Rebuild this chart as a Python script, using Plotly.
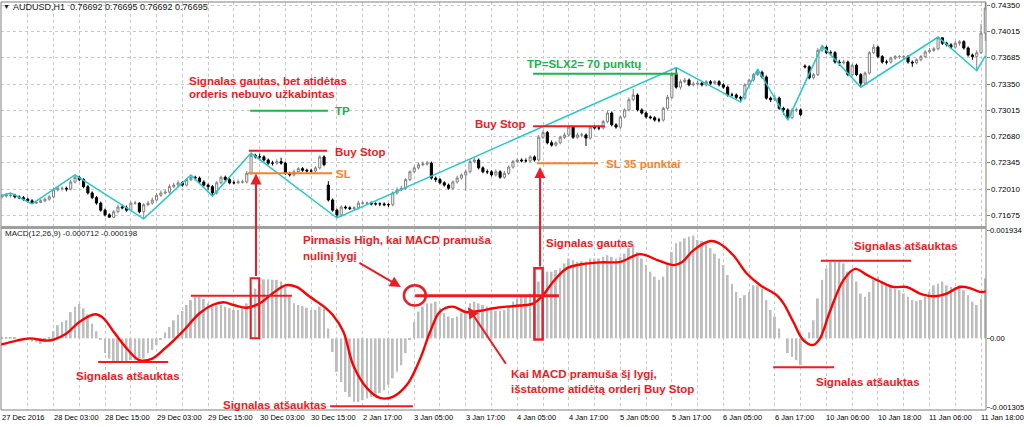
import plotly.graph_objects as go

# --- AUDUSD H1 candles (bar index 0..229) ---
opens = [
    0.7191, 0.7192, 0.7193, 0.7193, 0.7191, 0.7190, 0.7188, 0.7186, 0.7183, 0.7184,
    0.7186, 0.7188, 0.7191, 0.7200, 0.7202, 0.7202, 0.7201, 0.7210, 0.7216, 0.7213,
    0.7204, 0.7196, 0.7190, 0.7183, 0.7174, 0.7168, 0.7165, 0.7172, 0.7178, 0.7177,
    0.7174, 0.7183, 0.7183, 0.7172, 0.7181, 0.7183, 0.7187, 0.7193, 0.7196, 0.7197,
    0.7204, 0.7206, 0.7209, 0.7206, 0.7213, 0.7216, 0.7215, 0.7210, 0.7206, 0.7204,
    0.7196, 0.7209, 0.7216, 0.7213, 0.7209, 0.7209, 0.7210, 0.7210, 0.7221, 0.7244,
    0.7242, 0.7242, 0.7238, 0.7234, 0.7234, 0.7236, 0.7234, 0.7221, 0.7219, 0.7223,
    0.7227, 0.7225, 0.7224, 0.7224, 0.7228, 0.7242, 0.7206, 0.7187, 0.7174, 0.7168,
    0.7178, 0.7177, 0.7176, 0.7177, 0.7183, 0.7183, 0.7183, 0.7182, 0.7182, 0.7182,
    0.7181, 0.7181, 0.7196, 0.7200, 0.7202, 0.7213, 0.7223, 0.7228, 0.7232, 0.7233,
    0.7234, 0.7215, 0.7213, 0.7209, 0.7206, 0.7202, 0.7210, 0.7215, 0.7219, 0.7223,
    0.7236, 0.7238, 0.7228, 0.7223, 0.7223, 0.7219, 0.7223, 0.7216, 0.7221, 0.7229,
    0.7236, 0.7238, 0.7237, 0.7237, 0.7242, 0.7238, 0.7267, 0.7273, 0.7260, 0.7257,
    0.7260, 0.7267, 0.7270, 0.7280, 0.7267, 0.7270, 0.7270, 0.7266, 0.7280, 0.7279,
    0.7279, 0.7287, 0.7298, 0.7283, 0.7280, 0.7293, 0.7302, 0.7315, 0.7321, 0.7302,
    0.7298, 0.7293, 0.7292, 0.7289, 0.7289, 0.7304, 0.7318, 0.7347, 0.7331, 0.7338,
    0.7340, 0.7334, 0.7335, 0.7336, 0.7334, 0.7338, 0.7336, 0.7338, 0.7334, 0.7331,
    0.7321, 0.7321, 0.7318, 0.7317, 0.7334, 0.7340, 0.7347, 0.7350, 0.7344, 0.7317,
    0.7315, 0.7317, 0.7304, 0.7302, 0.7292, 0.7302, 0.7302, 0.7358, 0.7357, 0.7343,
    0.7347, 0.7378, 0.7382, 0.7375, 0.7375, 0.7363, 0.7362, 0.7363, 0.7347, 0.7359,
    0.7347, 0.7336, 0.7349, 0.7375, 0.7382, 0.7370, 0.7363, 0.7363, 0.7368, 0.7370,
    0.7370, 0.7370, 0.7363, 0.7362, 0.7366, 0.7370, 0.7376, 0.7378, 0.7380, 0.7394,
    0.7387, 0.7385, 0.7382, 0.7387, 0.7389, 0.7381, 0.7372, 0.7370, 0.7375, 0.7400,
]
highs = [
    0.7195, 0.7196, 0.7196, 0.7195, 0.7193, 0.7192, 0.7190, 0.7188, 0.7186, 0.7188,
    0.7190, 0.7193, 0.7203, 0.7205, 0.7204, 0.7204, 0.7213, 0.7219, 0.7218, 0.7215,
    0.7206, 0.7198, 0.7192, 0.7185, 0.7176, 0.7170, 0.7174, 0.7181, 0.7181, 0.7180,
    0.7185, 0.7186, 0.7184, 0.7183, 0.7186, 0.7190, 0.7196, 0.7199, 0.7200, 0.7207,
    0.7209, 0.7212, 0.7211, 0.7215, 0.7219, 0.7218, 0.7217, 0.7212, 0.7208, 0.7206,
    0.7211, 0.7218, 0.7218, 0.7215, 0.7212, 0.7213, 0.7213, 0.7224, 0.7247, 0.7246,
    0.7246, 0.7244, 0.7240, 0.7237, 0.7239, 0.7241, 0.7236, 0.7223, 0.7226, 0.7229,
    0.7229, 0.7227, 0.7227, 0.7230, 0.7244, 0.7244, 0.7211, 0.7189, 0.7176, 0.7180,
    0.7180, 0.7179, 0.7179, 0.7186, 0.7185, 0.7185, 0.7185, 0.7184, 0.7184, 0.7184,
    0.7183, 0.7198, 0.7203, 0.7205, 0.7215, 0.7225, 0.7231, 0.7235, 0.7236, 0.7237,
    0.7236, 0.7217, 0.7215, 0.7211, 0.7208, 0.7212, 0.7218, 0.7221, 0.7226, 0.7239,
    0.7242, 0.7240, 0.7230, 0.7226, 0.7225, 0.7226, 0.7225, 0.7224, 0.7231, 0.7238,
    0.7240, 0.7240, 0.7240, 0.7244, 0.7244, 0.7270, 0.7276, 0.7275, 0.7263, 0.7262,
    0.7269, 0.7273, 0.7282, 0.7282, 0.7273, 0.7273, 0.7272, 0.7282, 0.7282, 0.7282,
    0.7289, 0.7301, 0.7300, 0.7285, 0.7295, 0.7304, 0.7318, 0.7329, 0.7323, 0.7304,
    0.7300, 0.7295, 0.7294, 0.7292, 0.7306, 0.7321, 0.7350, 0.7356, 0.7341, 0.7343,
    0.7342, 0.7338, 0.7339, 0.7338, 0.7340, 0.7340, 0.7340, 0.7340, 0.7336, 0.7333,
    0.7324, 0.7323, 0.7320, 0.7336, 0.7342, 0.7349, 0.7354, 0.7352, 0.7346, 0.7319,
    0.7321, 0.7319, 0.7306, 0.7304, 0.7304, 0.7305, 0.7304, 0.7360, 0.7359, 0.7349,
    0.7381, 0.7384, 0.7384, 0.7378, 0.7377, 0.7366, 0.7366, 0.7365, 0.7361, 0.7361,
    0.7349, 0.7351, 0.7377, 0.7386, 0.7384, 0.7372, 0.7366, 0.7370, 0.7372, 0.7372,
    0.7372, 0.7372, 0.7365, 0.7368, 0.7372, 0.7378, 0.7381, 0.7382, 0.7395, 0.7394,
    0.7389, 0.7387, 0.7390, 0.7391, 0.7391, 0.7383, 0.7374, 0.7378, 0.7412, 0.7439,
]
lows = [
    0.7189, 0.7190, 0.7190, 0.7189, 0.7188, 0.7186, 0.7184, 0.7182, 0.7182, 0.7183,
    0.7184, 0.7186, 0.7189, 0.7198, 0.7199, 0.7198, 0.7199, 0.7208, 0.7211, 0.7202,
    0.7194, 0.7188, 0.7181, 0.7172, 0.7166, 0.7165, 0.7164, 0.7170, 0.7175, 0.7172,
    0.7173, 0.7181, 0.7170, 0.7163, 0.7179, 0.7181, 0.7185, 0.7191, 0.7194, 0.7195,
    0.7202, 0.7204, 0.7204, 0.7204, 0.7211, 0.7212, 0.7208, 0.7204, 0.7200, 0.7192,
    0.7194, 0.7207, 0.7211, 0.7207, 0.7207, 0.7207, 0.7208, 0.7208, 0.7219, 0.7240,
    0.7239, 0.7236, 0.7232, 0.7231, 0.7232, 0.7232, 0.7219, 0.7217, 0.7217, 0.7221,
    0.7223, 0.7222, 0.7222, 0.7222, 0.7226, 0.7230, 0.7185, 0.7172, 0.7164, 0.7166,
    0.7175, 0.7174, 0.7174, 0.7175, 0.7181, 0.7181, 0.7180, 0.7180, 0.7179, 0.7179,
    0.7178, 0.7179, 0.7194, 0.7198, 0.7200, 0.7211, 0.7221, 0.7226, 0.7230, 0.7231,
    0.7213, 0.7210, 0.7207, 0.7204, 0.7200, 0.7200, 0.7208, 0.7213, 0.7199, 0.7221,
    0.7234, 0.7226, 0.7221, 0.7220, 0.7217, 0.7217, 0.7214, 0.7214, 0.7219, 0.7227,
    0.7234, 0.7235, 0.7235, 0.7235, 0.7236, 0.7236, 0.7265, 0.7258, 0.7255, 0.7255,
    0.7258, 0.7265, 0.7268, 0.7265, 0.7265, 0.7267, 0.7256, 0.7264, 0.7277, 0.7276,
    0.7277, 0.7285, 0.7281, 0.7278, 0.7278, 0.7291, 0.7300, 0.7313, 0.7300, 0.7296,
    0.7291, 0.7290, 0.7287, 0.7286, 0.7287, 0.7302, 0.7316, 0.7329, 0.7328, 0.7336,
    0.7332, 0.7332, 0.7333, 0.7332, 0.7332, 0.7334, 0.7334, 0.7332, 0.7329, 0.7319,
    0.7319, 0.7316, 0.7312, 0.7315, 0.7332, 0.7338, 0.7345, 0.7342, 0.7315, 0.7312,
    0.7313, 0.7302, 0.7296, 0.7289, 0.7290, 0.7299, 0.7294, 0.7355, 0.7341, 0.7341,
    0.7345, 0.7376, 0.7373, 0.7372, 0.7361, 0.7358, 0.7360, 0.7345, 0.7345, 0.7345,
    0.7331, 0.7334, 0.7347, 0.7373, 0.7368, 0.7361, 0.7360, 0.7361, 0.7366, 0.7367,
    0.7367, 0.7361, 0.7357, 0.7360, 0.7364, 0.7368, 0.7374, 0.7376, 0.7378, 0.7385,
    0.7383, 0.7380, 0.7380, 0.7384, 0.7379, 0.7370, 0.7366, 0.7352, 0.7373, 0.7390,
]
closes = [
    0.7192, 0.7193, 0.7193, 0.7191, 0.7190, 0.7188, 0.7186, 0.7183, 0.7184, 0.7186,
    0.7188, 0.7191, 0.7200, 0.7202, 0.7202, 0.7201, 0.7210, 0.7216, 0.7213, 0.7204,
    0.7196, 0.7190, 0.7183, 0.7174, 0.7168, 0.7165, 0.7172, 0.7178, 0.7177, 0.7174,
    0.7183, 0.7183, 0.7172, 0.7181, 0.7183, 0.7187, 0.7193, 0.7196, 0.7197, 0.7204,
    0.7206, 0.7209, 0.7206, 0.7213, 0.7216, 0.7215, 0.7210, 0.7206, 0.7204, 0.7196,
    0.7209, 0.7216, 0.7213, 0.7209, 0.7209, 0.7210, 0.7210, 0.7221, 0.7244, 0.7242,
    0.7242, 0.7238, 0.7234, 0.7234, 0.7236, 0.7234, 0.7221, 0.7219, 0.7223, 0.7227,
    0.7225, 0.7224, 0.7224, 0.7228, 0.7242, 0.7232, 0.7187, 0.7174, 0.7168, 0.7178,
    0.7177, 0.7176, 0.7177, 0.7183, 0.7183, 0.7183, 0.7182, 0.7182, 0.7182, 0.7181,
    0.7181, 0.7196, 0.7200, 0.7202, 0.7213, 0.7223, 0.7228, 0.7232, 0.7233, 0.7234,
    0.7215, 0.7213, 0.7209, 0.7206, 0.7202, 0.7210, 0.7215, 0.7219, 0.7223, 0.7236,
    0.7238, 0.7228, 0.7223, 0.7223, 0.7219, 0.7223, 0.7216, 0.7221, 0.7229, 0.7236,
    0.7238, 0.7237, 0.7237, 0.7242, 0.7238, 0.7267, 0.7273, 0.7260, 0.7257, 0.7260,
    0.7267, 0.7270, 0.7280, 0.7267, 0.7270, 0.7270, 0.7266, 0.7280, 0.7279, 0.7279,
    0.7287, 0.7298, 0.7283, 0.7280, 0.7293, 0.7302, 0.7315, 0.7321, 0.7302, 0.7298,
    0.7293, 0.7292, 0.7289, 0.7289, 0.7304, 0.7318, 0.7347, 0.7331, 0.7338, 0.7340,
    0.7334, 0.7335, 0.7336, 0.7334, 0.7338, 0.7336, 0.7338, 0.7334, 0.7331, 0.7321,
    0.7321, 0.7318, 0.7317, 0.7334, 0.7340, 0.7347, 0.7350, 0.7344, 0.7317, 0.7315,
    0.7317, 0.7304, 0.7302, 0.7292, 0.7302, 0.7302, 0.7296, 0.7357, 0.7343, 0.7347,
    0.7378, 0.7382, 0.7375, 0.7375, 0.7363, 0.7362, 0.7363, 0.7347, 0.7359, 0.7347,
    0.7336, 0.7349, 0.7375, 0.7382, 0.7370, 0.7363, 0.7363, 0.7368, 0.7370, 0.7370,
    0.7370, 0.7363, 0.7362, 0.7366, 0.7370, 0.7376, 0.7378, 0.7380, 0.7394, 0.7387,
    0.7385, 0.7382, 0.7387, 0.7389, 0.7381, 0.7372, 0.7370, 0.7375, 0.7400, 0.7432,
]

# zigzag vertices (bar, price)
zz_bar = [-1, 2, 7, 17, 33, 44, 49, 58, 78, 157, 172, 176, 183, 191, 200, 218, 227, 229]
zz_price = [0.7191, 0.7196, 0.7182, 0.7219, 0.7163, 0.7219, 0.7192, 0.7247, 0.7164,
            0.7356, 0.7312, 0.7354, 0.7289, 0.7384, 0.7331, 0.7395, 0.7352, 0.7371]

# MACD(12,26,9) main line as histogram
macd_hist = [
    0.00002, 0.00002, 0.00002, 0.00001, 0.0, -0.00001, -0.00002, -0.00006, -0.00007, -0.0001,
    -0.00003, 0.00001, 0.00013, 0.00024, 0.0003, 0.00033, 0.00048, 0.00058, 0.00063, 0.00055,
    0.00044, 0.00027, 0.00013, -0.00003, -0.00027, -0.00037, -0.00043, -0.00043, -0.00043, -0.00043,
    -0.0004, -0.0004, -0.00037, -0.00037, -0.00027, -0.00021, -0.00012, -0.00003, 0.00011, 0.00021,
    0.00033, 0.00043, 0.0005, 0.00061, 0.0007, 0.00076, 0.00076, 0.00072, 0.00064, 0.00061,
    0.00059, 0.00061, 0.00058, 0.00055, 0.00052, 0.00052, 0.00055, 0.00064, 0.00085, 0.00091,
    0.001, 0.00108, 0.00108, 0.00107, 0.00107, 0.00104, 0.00094, 0.00076, 0.00064, 0.00061,
    0.00059, 0.00056, 0.00052, 0.00052, 0.00058, 0.00055, 0.00018, -0.00025, -0.00061, -0.0008,
    -0.00098, -0.00107, -0.00116, -0.00116, -0.00113, -0.0011, -0.00107, -0.00104, -0.001, -0.00095,
    -0.00085, -0.00073, -0.00061, -0.00049, -0.00027, -0.00003, 0.0003, 0.00049, 0.00058, 0.00064,
    0.00064, 0.00067, 0.00055, 0.00046, 0.0004, 0.00037, 0.0004, 0.00046, 0.00052, 0.00064,
    0.00067, 0.00064, 0.00061, 0.00058, 0.00052, 0.0005, 0.0005, 0.00052, 0.00058, 0.00067,
    0.00073, 0.00076, 0.00079, 0.00082, 0.00085, 0.00104, 0.00116, 0.00122, 0.00122, 0.00125,
    0.00128, 0.00137, 0.00146, 0.00143, 0.0014, 0.00141, 0.0014, 0.00146, 0.00146, 0.00146,
    0.00149, 0.00152, 0.00149, 0.00146, 0.00149, 0.00155, 0.00165, 0.00171, 0.00158, 0.00146,
    0.00134, 0.00122, 0.00113, 0.00107, 0.00113, 0.00134, 0.00158, 0.00174, 0.00177, 0.00183,
    0.00186, 0.00188, 0.0018, 0.00178, 0.00174, 0.00165, 0.00155, 0.00146, 0.00134, 0.00116,
    0.001, 0.00085, 0.00074, 0.00079, 0.00085, 0.00097, 0.00097, 0.00091, 0.0007, 0.00052,
    0.0004, 0.00018, 0.0, -0.00027, -0.00034, -0.0004, -0.00049, -0.00006, 0.00011, 0.00033,
    0.00073, 0.00107, 0.00128, 0.0014, 0.0014, 0.0014, 0.00137, 0.00122, 0.00119, 0.00104,
    0.00082, 0.00076, 0.00085, 0.00107, 0.00113, 0.00104, 0.00097, 0.00094, 0.00091, 0.00088,
    0.00082, 0.00076, 0.0007, 0.00068, 0.0007, 0.00076, 0.00085, 0.00097, 0.001, 0.00104,
    0.00097, 0.00094, 0.00094, 0.00097, 0.00088, 0.00079, 0.00067, 0.00061, 0.00073, 0.0011,
]

# signal line, read at points along its course (bar, value)
sig_bar = [-0.5, 3.4, 6.5, 11, 15, 18, 21.7, 23.6, 26, 29, 32, 35, 38, 42, 46, 49, 51.6, 54,
           57, 60, 63, 66, 68.6, 71.7, 75, 77, 79.5, 81.8, 85, 88, 91, 94.3, 97.4, 99.7,
           102, 105, 108, 111, 114.4, 117.5, 120.6, 123.8, 126, 128.4, 131.5, 134.6, 139.3,
           144, 148.6, 153, 156.5, 158.5, 161, 165, 167, 170.3, 173.4, 176.6, 180.4, 182,
           184.3, 186.6, 189, 190.5, 192.8, 196, 198.7, 201.4, 204.5, 207.6, 210.7, 213.8,
           217, 220, 223, 225.4, 227.8, 229.2]
sig_val = [-0.00012, -0.00004, 0.0, -0.00004, 0.00009, 0.0003, 0.00044, 0.00037, 0.00012,
           -0.00018, -0.0004, -0.00037, -0.00018, 0.00012, 0.00046, 0.00061, 0.00066, 0.00061,
           0.00056, 0.00064, 0.00082, 0.00097, 0.00094, 0.00076, 0.00058, 0.00043, 0.00012,
           -0.00049, -0.00091, -0.00109, -0.00107, -0.00085, -0.00037, 0.00012, 0.00049,
           0.00058, 0.00048, 0.0005, 0.00055, 0.00058, 0.0006, 0.00064, 0.00079, 0.00104,
           0.00128, 0.00135, 0.00139, 0.0014, 0.00154, 0.00142, 0.00134, 0.0014, 0.00161,
           0.00178, 0.00174, 0.00152, 0.00119, 0.00097, 0.00079, 0.00064, 0.0003, -0.00003,
           -0.00012, 0.0, 0.00049, 0.00107, 0.00127, 0.00116, 0.00104, 0.00094, 0.00094,
           0.00082, 0.00077, 0.00082, 0.00094, 0.00092, 0.00085, 0.00086]

time_labels = ["27 Dec 2016", "28 Dec 03:00", "28 Dec 15:00", "29 Dec 03:00", "29 Dec 15:00",
               "30 Dec 03:00", "30 Dec 15:00", "2 Jan 17:00", "3 Jan 05:00", "3 Jan 17:00",
               "4 Jan 05:00", "4 Jan 17:00", "5 Jan 05:00", "5 Jan 17:00", "6 Jan 05:00",
               "6 Jan 17:00", "10 Jan 06:00", "10 Jan 18:00", "11 Jan 06:00", "11 Jan 18:00"]
price_ticks = [0.74350, 0.74015, 0.73685, 0.73350, 0.73015, 0.72680, 0.72345, 0.72010, 0.71675]
macd_labels = ["0.001934", "0.00", "-0.001305"]
macd_label_pos = [0.00197, 0.0, -0.00127]

# trade levels marked on the chart
TP_1, BUY_STOP_1, SL_1 = 0.7301, 0.7250, 0.7221
TP_2, BUY_STOP_2, SL_2 = 0.7348, 0.7281, 0.7234
HIGH_LVL = 0.00078

assert len(opens) == len(highs) == len(lows) == len(closes) == len(macd_hist) == 230
bars = list(range(len(closes)))

RED = "#ed1c24"
GREEN = "#22b14c"
ORANGE = "#ff7f27"
FONT = "Liberation Sans"


def px(x):
    return (x - 1) / 985.0


def py(y):
    return (410 - y) / 408.0


fig = go.Figure()
fig.add_trace(go.Candlestick(
    x=bars, open=opens, high=highs, low=lows, close=closes,
    increasing=dict(fillcolor="white", line=dict(color="#808080", width=1)),
    decreasing=dict(fillcolor="black", line=dict(color="black", width=1)),
    whiskerwidth=0, hoverinfo="skip", showlegend=False))
fig.add_trace(go.Scatter(x=zz_bar, y=zz_price, mode="lines",
                         line=dict(color="#22c7cf", width=1.5), hoverinfo="skip"))
fig.add_trace(go.Bar(x=bars, y=macd_hist, width=0.45, marker=dict(color="#bdbdbd", line=dict(width=0)),
                     xaxis="x2", yaxis="y2", hoverinfo="skip"))
fig.add_trace(go.Scatter(x=sig_bar, y=sig_val, mode="lines", line=dict(color="#ff0000", width=2.4, shape="spline"),
                         xaxis="x2", yaxis="y2", hoverinfo="skip"))

xr = [-0.233, 229.16]
grid_bars = list(range(0, 230, 6))
axis_font = dict(family=FONT, size=8, color="#000000")
fig.update_layout(
    width=1024, height=427,
    margin=dict(l=1, r=38, t=2, b=17),
    paper_bgcolor="white", plot_bgcolor="white",
    showlegend=False,
    xaxis=dict(domain=[0, 1], anchor="y", range=xr, tickvals=grid_bars, showticklabels=False,
               showgrid=True, gridcolor="#c8c8c8", griddash="dot", gridwidth=1, zeroline=False,
               rangeslider=dict(visible=False), ticks=""),
    xaxis2=dict(domain=[0, 1], anchor="y2", range=xr, matches="x", tickvals=grid_bars,
                showticklabels=False, showgrid=True, gridcolor="#c8c8c8", griddash="dot",
                zeroline=False, ticks=""),
    yaxis=dict(domain=[py(226), 1], anchor="x", side="right", range=[0.71538, 0.74397],
               tickvals=price_ticks, showticklabels=False,
               showgrid=True, gridcolor="#c8c8c8", griddash="dot", zeroline=False,
               ticks="outside", ticklen=3, tickcolor="#808080"),
    yaxis2=dict(domain=[0, py(229)], anchor="x2", side="right", range=[-0.00131, 0.00200],
                tickvals=macd_label_pos, showticklabels=False, showgrid=False,
                zeroline=False, ticks="outside", ticklen=3, tickcolor="#808080"),
)

shapes = [
    dict(type="rect", xref="paper", yref="paper", x0=0, x1=1, y0=0, y1=1,
         line=dict(color="#808080", width=1)),
    dict(type="line", xref="paper", yref="paper", x0=0, x1=1, y0=py(227.5), y1=py(227.5),
         line=dict(color="#a0a0a0", width=3)),
    # first setup
    dict(type="line", xref="x", yref="y", x0=57.8, x1=75.9, y0=TP_1, y1=TP_1, line=dict(color=GREEN, width=2)),
    dict(type="line", xref="x", yref="y", x0=57.5, x1=75.7, y0=BUY_STOP_1, y1=BUY_STOP_1, line=dict(color=RED, width=2)),
    dict(type="line", xref="x", yref="y", x0=57.3, x1=76.9, y0=SL_1, y1=SL_1, line=dict(color=ORANGE, width=2)),
    # second setup
    dict(type="line", xref="x", yref="y", x0=123.7, x1=157.4, y0=TP_2, y1=TP_2, line=dict(color=GREEN, width=2)),
    dict(type="line", xref="x", yref="y", x0=123.7, x1=140.4, y0=BUY_STOP_2, y1=BUY_STOP_2, line=dict(color=RED, width=2)),
    dict(type="line", xref="x", yref="y", x0=124.6, x1=138.8, y0=SL_2, y1=SL_2, line=dict(color=ORANGE, width=2)),
    # MACD panel marks
    dict(type="rect", xref="x2", yref="y2", x0=57.9, x1=59.9, y0=0.0, y1=0.0011, line=dict(color=RED, width=2)),
    dict(type="line", xref="x2", yref="y2", x0=44.0, x1=67.5, y0=HIGH_LVL, y1=HIGH_LVL, line=dict(color=RED, width=2)),
    dict(type="line", xref="x2", yref="y2", x0=22.4, x1=38.7, y0=-0.00043, y1=-0.00043, line=dict(color=RED, width=2)),
    dict(type="line", xref="x2", yref="y2", x0=76.4, x1=95.7, y0=-0.00124, y1=-0.00124, line=dict(color=RED, width=2)),
    dict(type="circle", xref="x2", yref="y2", x0=93.6, x1=98.7, y0=0.0006, y1=0.00097, line=dict(color=RED, width=2.5)),
    dict(type="line", xref="x2", yref="y2", x0=96.2, x1=129.7, y0=HIGH_LVL, y1=HIGH_LVL, line=dict(color=RED, width=3)),
    dict(type="rect", xref="x2", yref="y2", x0=124.0, x1=125.9, y0=-0.00002, y1=0.00128, line=dict(color=RED, width=2.5)),
    dict(type="line", xref="x2", yref="y2", x0=190.7, x1=211.7, y0=0.00142, y1=0.00142, line=dict(color=RED, width=2)),
    dict(type="line", xref="x2", yref="y2", x0=179.6, x1=193.8, y0=-0.00053, y1=-0.00053, line=dict(color=RED, width=2)),
]
fig.update_layout(shapes=shapes)

ann = []


def label(text, x, y, color=RED, size=11.5, anchor="left", bold=True):
    ann.append(dict(text=text, xref="paper", yref="paper", x=px(x), y=py(y), xanchor=anchor,
                    yanchor="middle", showarrow=False, borderpad=0,
                    font=dict(family=FONT, size=size, color=color, weight="bold" if bold else "normal")))


label("▼", 2, 7, color="#202020", size=7, bold=False)
label("AUDUSD,H1  0.76692 0.76695 0.76692 0.76695", 11.5, 7, color="#202020", size=9, bold=False)
label("MACD(12,26,9) -0.000712 -0.000198", 3.5, 233, color="#202020", size=8, bold=False)
label("Signalas gautas, bet atidėtas", 187.5, 81)
label("orderis nebuvo užkabintas", 187.5, 94.3)
label("TP", 333.5, 110.5, color=GREEN)
label("Buy Stop", 333.5, 152)
label("SL", 334.5, 174, color=ORANGE)
label("TP=SLX2= 70 punktų", 525.5, 64, color=GREEN)
label("Buy Stop", 526, 124.3, anchor="right")
label("SL 35 punktai", 604.5, 164, color=ORANGE)
label("Pirmasis High, kai MACD pramuša", 301.5, 240.5)
label("nulinį lygį", 301.5, 256)
label("Signalas gautas", 544.5, 243.3)
label("Signalas atšauktas", 74.5, 375.7)
label("Signalas atšauktas", 221.5, 405)
label("Kai MACD pramuša šį lygį,", 509.5, 374.3)
label("išstatome atidėtą orderį Buy Stop", 509.5, 389)
label("Signalas atšauktas", 852.5, 246)
label("Signalas atšauktas", 814.5, 382.3)

# right-hand scale labels
for v in price_ticks:
    ann.append(dict(text=f"{v:.5f}", xref="paper", yref="y", x=px(990), y=v, xanchor="left",
                    yanchor="middle", showarrow=False, borderpad=0, font=axis_font))
for v, t in zip(macd_label_pos, macd_labels):
    ann.append(dict(text=t, xref="paper", yref="y2", x=px(989.5), y=v, xanchor="left",
                    yanchor="middle", showarrow=False, borderpad=0,
                    font=dict(family=FONT, size=7.6, color="#000000")))

for i, t in enumerate(time_labels):
    ann.append(dict(text=t, xref="x2", yref="paper", x=i * 12, y=py(417.5), xanchor="left",
                    yanchor="middle", showarrow=False, borderpad=0, xshift=-1,
                    font=dict(family=FONT, size=7.5, color="#000000")))


def arrow(x, y, ax, ay, xref, yref):
    ann.append(dict(text="", x=x, y=y, xref=xref, yref=yref, ax=ax, ay=ay, showarrow=True,
                    arrowhead=2, arrowsize=1.1, arrowwidth=2, arrowcolor=RED, standoff=0))


arrow(59.15, SL_1 - 0.00003, 0, 104, "x", "y")
arrow(125.3, 0.72291, 0, 101, "x", "y")
arrow(92.9, 0.00094, -43, -25, "x2", "y2")
arrow(108.5, 0.00057, 39, 58, "x2", "y2")

fig.update_layout(annotations=ann)
# page body has a default 8px margin; drop it so the figure sits at the window corner
fig.write_html("out.html", config={"displayModeBar": False},
               post_script="document.body.style.margin='0';document.body.style.overflow='hidden';")
